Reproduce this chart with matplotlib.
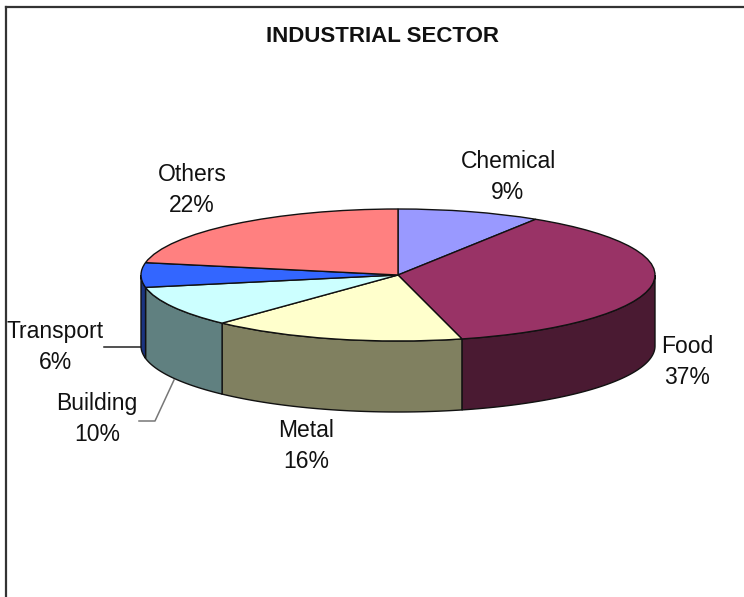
import numpy as np
import matplotlib
matplotlib.use("Agg")
import matplotlib.pyplot as plt
from matplotlib.patches import Polygon
from matplotlib.transforms import Affine2D

title = "INDUSTRIAL SECTOR"
categories = ["Chemical", "Food", "Metal", "Building", "Transport", "Others"]
values = [9, 37, 16, 10, 6, 22]
top_colors = ["#9999FF", "#993366", "#FFFFCC", "#CCFFFF", "#3366FF", "#FF8080"]
side_colors = ["#4D4D80", "#4A1A32", "#808060", "#608080", "#1A3380", "#804040"]
label_pos = {"Chemical": (508, 177), "Food": (687, 362), "Metal": (306, 446),
             "Building": (97, 419), "Transport": (55, 347), "Others": (192, 190)}

W, H = 744, 597
CX, CY, RX, RY, DEPTH = 398, 275, 257, 66, 71

plt.rcParams["font.family"] = ["Liberation Sans", "DejaVu Sans"]
fig = plt.figure(figsize=(W / 100, H / 100), dpi=100, facecolor="white")
ax = fig.add_axes([0, 0, 1, 1])

# top face: a real pie, squashed into an ellipse (y axis runs downward)
wedges, _ = ax.pie(values, colors=top_colors, startangle=90, counterclock=False,
                   radius=1, wedgeprops=dict(edgecolor="#111111", linewidth=1.0))
ellipse = Affine2D().scale(RX, -RY).translate(CX, CY) + ax.transData
for w in wedges:
    w.set_transform(ellipse)
    w.set_zorder(5)
    w.set_clip_on(False)
ax.set_aspect("auto")
ax.set_xlim(0, W)
ax.set_ylim(H, 0)
ax.axis("off")

# side faces: only the near half of the rim
edges = np.cumsum([0] + values) / sum(values) * 2 * np.pi
for start, end, col in zip(edges[:-1], edges[1:], side_colors):
    lo, hi = max(start, np.pi / 2), min(end, 3 * np.pi / 2)
    if hi <= lo:
        continue
    t = np.linspace(lo, hi, 120)
    x = CX + RX * np.sin(t)
    y = CY - RY * np.cos(t)
    pts = np.r_[np.c_[x, y], np.c_[x[::-1], y[::-1] + DEPTH]]
    ax.add_patch(Polygon(pts, closed=True, facecolor=col, edgecolor="#111111",
                         linewidth=1.0, zorder=3))

# leader lines
ax.plot([104, 143], [347, 347], color="#222222", lw=1.1, zorder=2)
ax.plot([139, 155, 174], [421, 421, 380], color="#777777", lw=1.1, zorder=2)

# frame (left and top only; the crop cuts the rest)
ax.plot([6, 6], [H, 7], color="#333333", lw=1.6)
ax.plot([6, W], [7, 7], color="#333333", lw=1.6)

ax.text(382, 37, title, ha="center", va="center", fontsize=16, fontweight="bold", color="#111111")
for name, val in zip(categories, values):
    x, y = label_pos[name]
    ax.text(x, y, f"{name}\n{val}%", ha="center", va="center", fontsize=16.5,
            color="#111111", linespacing=1.41, zorder=6)

fig.savefig("out.png", dpi=100, facecolor="white")
